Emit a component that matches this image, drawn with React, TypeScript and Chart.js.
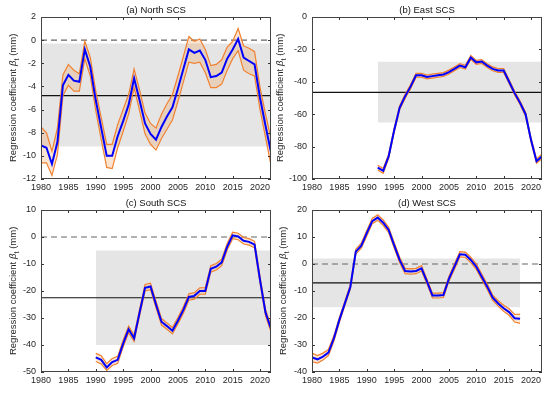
import React, { useEffect, useRef } from "react";
import { Chart, registerables } from "chart.js";
Chart.register(...registerables);

const FONT = "'Liberation Sans', Arial, Helvetica, sans-serif";
const TEXT = "#262626";
const BLUE = "#0000ff";
const ORANGE = "#f0802f";
const PEACH = "rgba(240, 150, 70, 0.25)";
const BAND = "#e5e5e5";

const xTicks = [1980, 1985, 1990, 1995, 2000, 2005, 2010, 2015, 2020];
const xRange = [1980, 2022];

// (a) North SCS
const northYears = [1980, 1981, 1982, 1983, 1984, 1985, 1986, 1987, 1988, 1989, 1990, 1991, 1992, 1993, 1994, 1995, 1996, 1997, 1998, 1999, 2000, 2001, 2002, 2003, 2004, 2005, 2006, 2007, 2008, 2009, 2010, 2011, 2012, 2013, 2014, 2015, 2016, 2017, 2018, 2019, 2020, 2021, 2022];
const northMid = [-9.1, -9.3, -10.7, -8.8, -3.9, -3.0, -3.5, -3.6, -0.8, -2.3, -5.2, -7.6, -10.0, -10.0, -8.3, -7.0, -5.6, -3.3, -5.2, -7.2, -8.1, -8.6, -7.5, -6.6, -5.8, -4.2, -2.5, -0.8, -1.1, -0.9, -1.7, -3.2, -3.1, -2.8, -1.6, -0.8, 0.1, -1.5, -1.8, -2.1, -5.0, -7.4, -9.7];
const northUpper = [-7.5, -8.0, -9.6, -7.6, -3.0, -2.1, -2.6, -2.9, -0.1, -1.5, -4.4, -6.7, -9.0, -9.0, -7.3, -6.0, -4.7, -2.5, -4.3, -6.3, -7.2, -7.6, -6.4, -5.5, -4.7, -3.1, -1.4, 0.3, -0.1, 0.1, -0.8, -2.2, -2.1, -1.7, -0.6, -0.1, 1.0, -0.5, -0.7, -1.0, -4.1, -6.4, -8.5];
const northLower = [-10.6, -10.6, -11.7, -9.9, -4.8, -3.9, -4.4, -4.4, -1.6, -3.1, -6.1, -8.6, -11.0, -11.1, -9.3, -7.9, -6.4, -4.1, -6.1, -8.1, -9.0, -9.5, -8.5, -7.7, -6.9, -5.3, -3.6, -1.9, -2.0, -1.9, -2.8, -4.1, -4.1, -3.8, -2.6, -1.6, -0.9, -2.6, -2.9, -3.1, -6.0, -8.4, -10.8];
const northBandYears = [1980, 2022];
const northBand = [-0.3, -9.2];
const northMean = -4.8;
const northYTicks = [-12, 2, 2];

// (b) East SCS
const eastYears = [1992, 1993, 1994, 1995, 1996, 1997, 1998, 1999, 2000, 2001, 2002, 2003, 2004, 2005, 2006, 2007, 2008, 2009, 2010, 2011, 2012, 2013, 2014, 2015, 2016, 2017, 2018, 2019, 2020, 2021, 2022];
const eastMid = [-93, -95, -86, -70, -56, -49, -43, -36, -36, -37, -36.5, -36, -35.5, -34, -32, -30, -31, -25, -28, -27.5, -30, -32, -33, -33, -40, -47, -53, -60, -76, -89, -86];
const eastUpper = [-91.5, -93.5, -84.7, -68.7, -54.7, -47.7, -41.7, -34.8, -34.8, -35.8, -35.3, -34.8, -34.3, -32.8, -30.8, -28.8, -29.8, -23.8, -26.8, -26.3, -28.8, -30.8, -31.8, -31.8, -38.8, -45.8, -51.8, -58.8, -74.7, -87.7, -84.5];
const eastLower = [-94.5, -96.5, -87.3, -71.3, -57.3, -50.3, -44.3, -37.2, -37.2, -38.2, -37.7, -37.2, -36.7, -35.2, -33.2, -31.2, -32.2, -26.2, -29.2, -28.7, -31.2, -33.2, -34.2, -34.2, -41.2, -48.2, -54.2, -61.2, -77.3, -90.3, -87.5];
const eastBandYears = [1992, 2022];
const eastBand = [-27.6, -65.2];
const eastMean = -46.5;
const eastYTicks = [-100, 0, 20];

// (c) South SCS
const southYears = [1990, 1991, 1992, 1993, 1994, 1995, 1996, 1997, 1998, 1999, 2000, 2001, 2002, 2003, 2004, 2005, 2006, 2007, 2008, 2009, 2010, 2011, 2012, 2013, 2014, 2015, 2016, 2017, 2018, 2019, 2020, 2021, 2022];
const southMid = [-44.6, -45.5, -48.3, -46.3, -45.5, -39.5, -34.2, -37.5, -28, -18.8, -18.3, -25, -31.4, -33, -34.7, -31, -27, -22.2, -21.8, -20, -20, -11.8, -11, -9.4, -3.6, 0.6, 0.2, -1.4, -1.8, -2.8, -16, -28, -34];
const southUpper = [-43.1, -44.0, -46.9, -45.0, -44.2, -38.2, -33.0, -36.3, -26.8, -17.6, -17.1, -23.8, -30.2, -31.8, -33.5, -29.8, -25.8, -21.0, -20.6, -18.8, -18.8, -10.6, -9.8, -8.2, -2.4, 1.8, 1.4, -0.2, -0.6, -1.6, -14.8, -26.8, -32.8];
const southLower = [-46.1, -47.0, -49.4, -47.6, -46.8, -40.8, -35.4, -38.7, -29.2, -20.0, -19.5, -26.2, -32.6, -34.2, -35.9, -32.2, -28.2, -23.4, -23.0, -21.2, -21.2, -13.0, -12.2, -10.6, -4.8, -0.6, -1.0, -2.6, -3.0, -4.0, -17.2, -29.2, -35.2];
const southBandYears = [1990, 2022];
const southBand = [-5, -40];
const southMean = -22.5;
const southYTicks = [-50, 10, 10];

// (d) West SCS
const westYears = [1980, 1981, 1982, 1983, 1984, 1985, 1986, 1987, 1988, 1989, 1990, 1991, 1992, 1993, 1994, 1995, 1996, 1997, 1998, 1999, 2000, 2001, 2002, 2003, 2004, 2005, 2006, 2007, 2008, 2009, 2010, 2011, 2012, 2013, 2014, 2015, 2016, 2017, 2018];
const westMid = [-34.6, -35.3, -34.3, -32.8, -27.5, -20.7, -14.6, -8.5, 4.6, 6.8, 11.4, 15.9, 17.2, 15.3, 12.6, 7, 1.5, -2.6, -2.8, -2.6, -1.6, -6.5, -11.7, -11.7, -11.5, -5.5, -1, 3.6, 3.4, 1.5, -1, -4.7, -8.4, -12.5, -14.6, -16.4, -17.8, -20.1, -20.3];
const westUpper = [-33.0, -33.9, -33.0, -31.7, -26.5, -19.8, -13.8, -7.7, 5.5, 7.7, 12.4, 16.9, 18.2, 16.3, 13.6, 8.0, 2.5, -1.6, -1.8, -1.6, -0.6, -5.6, -10.8, -10.8, -10.6, -4.6, 0.0, 4.6, 4.4, 2.5, 0.0, -3.7, -7.4, -11.5, -13.6, -15.3, -16.6, -18.7, -18.6];
const westLower = [-36.2, -36.7, -35.6, -33.9, -28.5, -21.6, -15.4, -9.3, 3.7, 5.9, 10.4, 14.9, 16.2, 14.3, 11.6, 6.0, 0.5, -3.6, -3.8, -3.6, -2.6, -7.4, -12.6, -12.6, -12.4, -6.4, -2.0, 2.6, 2.4, 0.5, -2.0, -5.7, -9.4, -13.5, -15.6, -17.5, -19.0, -21.5, -22.0];
const westBandYears = [1980, 2018];
const westBand = [2, -16];
const westMean = -7;
const westYTicks = [-40, 20, 10];

type PanelData = {
  title: string;
  years: number[];
  mid: number[];
  upper: number[];
  lower: number[];
  bandYears: number[];
  band: number[];
  mean: number;
  zero: boolean;
  yTicks: number[];
};

type Layout = {
  left: number; top: number; w: number; h: number;
  leftW: number; padTop: number; padRight: number; bottomH: number; labelX: number;
};

const panels: { data: PanelData; layout: Layout }[] = [
  {
    data: { title: "(a) North SCS", years: northYears, mid: northMid, upper: northUpper, lower: northLower, bandYears: northBandYears, band: northBand, mean: northMean, zero: true, yTicks: northYTicks },
    layout: { left: 0, top: 0, w: 275, h: 196, leftW: 41, padTop: 17, padRight: 4, bottomH: 17, labelX: 13 },
  },
  {
    data: { title: "(b) East SCS", years: eastYears, mid: eastMid, upper: eastUpper, lower: eastLower, bandYears: eastBandYears, band: eastBand, mean: eastMean, zero: false, yTicks: eastYTicks },
    layout: { left: 272, top: 0, w: 278, h: 196, leftW: 40, padTop: 17, padRight: 8, bottomH: 17, labelX: 8 },
  },
  {
    data: { title: "(c) South SCS", years: southYears, mid: southMid, upper: southUpper, lower: southLower, bandYears: southBandYears, band: southBand, mean: southMean, zero: true, yTicks: southYTicks },
    layout: { left: 0, top: 196, w: 275, h: 199, leftW: 41, padTop: 14, padRight: 4, bottomH: 23, labelX: 13 },
  },
  {
    data: { title: "(d) West SCS", years: westYears, mid: westMid, upper: westUpper, lower: westLower, bandYears: westBandYears, band: westBand, mean: westMean, zero: true, yTicks: westYTicks },
    layout: { left: 272, top: 196, w: 278, h: 199, leftW: 40, padTop: 14, padRight: 8, bottomH: 23, labelX: 11 },
  },
];

const decorPlugin = {
  id: "decor",
  afterDraw(chart: any, _args: any, opts: any) {
    const { ctx, chartArea: ca, scales } = chart;
    const xs = scales.x, ys = scales.y;
    ctx.save();
    ctx.strokeStyle = "#333";
    ctx.lineWidth = 1;
    ctx.beginPath();
    const tl = 3;
    for (const t of xs.ticks) {
      const px = Math.round(xs.getPixelForValue(t.value)) + 0.5;
      ctx.moveTo(px, ca.bottom);
      ctx.lineTo(px, ca.bottom - tl);
      ctx.moveTo(px, ca.top);
      ctx.lineTo(px, ca.top + tl);
    }
    for (const t of ys.ticks) {
      const py = Math.round(ys.getPixelForValue(t.value)) + 0.5;
      ctx.moveTo(ca.left, py);
      ctx.lineTo(ca.left + tl, py);
      ctx.moveTo(ca.right, py);
      ctx.lineTo(ca.right - tl, py);
    }
    ctx.stroke();
    ctx.strokeStyle = "#444";
    ctx.strokeRect(Math.round(ca.left) + 0.5, Math.round(ca.top) + 0.5, Math.round(ca.width) - 1, Math.round(ca.height) - 1);

    ctx.fillStyle = "#111";
    ctx.font = `9.5px ${FONT}`;
    ctx.textAlign = "center";
    ctx.textBaseline = "middle";
    ctx.fillText(opts.title, (ca.left + ca.right) / 2, ca.top - 7);

    const cy = (ca.top + ca.bottom) / 2;
    ctx.translate(opts.labelX, cy);
    ctx.rotate(-Math.PI / 2);
    ctx.textAlign = "left";
    ctx.textBaseline = "alphabetic";
    const fN = `9.5px ${FONT}`;
    const fI = `italic 9.5px ${FONT}`;
    const fS = `7px ${FONT}`;
    const pA = "Regression coefficient ";
    const pB = "β";
    const pC = "t";
    const pD = " (mm)";
    ctx.font = fN;
    const wA = ctx.measureText(pA).width;
    const wD = ctx.measureText(pD).width;
    ctx.font = fI;
    const wB = ctx.measureText(pB).width;
    ctx.font = fS;
    const wC = ctx.measureText(pC).width;
    let x = -(wA + wB + wC + wD) / 2;
    const base = 3.4;
    ctx.fillStyle = TEXT;
    ctx.font = fN; ctx.fillText(pA, x, base); x += wA;
    ctx.font = fI; ctx.fillText(pB, x, base); x += wB + 0.3;
    ctx.font = fS; ctx.fillText(pC, x, base + 2.5); x += wC;
    ctx.font = fN; ctx.fillText(pD, x, base);
    ctx.restore();
  },
};

function pts(xs: number[], ys: number[]) {
  return xs.map((x, i) => ({ x, y: ys[i] }));
}

function Panel({ data, layout }: { data: PanelData; layout: Layout }) {
  const ref = useRef<HTMLCanvasElement | null>(null);
  useEffect(() => {
    if (!ref.current) return;
    const line = { pointRadius: 0, tension: 0, fill: false };
    const datasets: any[] = [
      { ...line, data: pts(data.years, data.mid), borderColor: BLUE, borderWidth: 2 },
      { ...line, data: pts(data.years, data.upper), borderColor: ORANGE, borderWidth: 1.2, fill: 2, backgroundColor: PEACH },
      { ...line, data: pts(data.years, data.lower), borderColor: ORANGE, borderWidth: 1.2 },
      { ...line, data: pts(xRange, [data.mean, data.mean]), borderColor: "#111", borderWidth: 1.2 },
    ];
    if (data.zero) {
      datasets.push({ ...line, data: pts(xRange, [0, 0]), borderColor: "#666", borderWidth: 1.2, borderDash: [6, 4] });
    }
    datasets.push(
      { ...line, data: pts(data.bandYears, [data.band[0], data.band[0]]), borderWidth: 0, borderColor: "rgba(0,0,0,0)", fill: "+1", backgroundColor: BAND },
      { ...line, data: pts(data.bandYears, [data.band[1], data.band[1]]), borderWidth: 0, borderColor: "rgba(0,0,0,0)" }
    );
    const chart = new Chart(ref.current, {
      type: "line",
      data: { datasets },
      options: {
        animation: false,
        responsive: false,
        devicePixelRatio: 1,
        layout: { padding: { top: layout.padTop, right: layout.padRight, left: 0, bottom: 0 } },
        plugins: {
          legend: { display: false },
          tooltip: { enabled: false },
          decor: { title: data.title, labelX: layout.labelX },
        } as any,
        scales: {
          x: {
            type: "linear",
            min: xRange[0],
            max: xRange[1],
            afterBuildTicks: (s: any) => {
              s.ticks = xTicks.map((v) => ({ value: v }));
            },
            afterFit: (s: any) => {
              s.height = layout.bottomH;
            },
            grid: { display: false, drawTicks: false },
            border: { display: false },
            ticks: {
              font: { family: FONT, size: 9 },
              color: TEXT,
              padding: 3,
              maxRotation: 0,
              autoSkip: false,
              callback: (v: any) => String(v),
            },
          },
          y: {
            type: "linear",
            min: data.yTicks[0],
            max: data.yTicks[1],
            afterFit: (s: any) => {
              s.width = layout.leftW;
            },
            grid: { display: false, drawTicks: false },
            border: { display: false },
            ticks: {
              stepSize: data.yTicks[2],
              font: { family: FONT, size: 9 },
              color: TEXT,
              padding: 5,
              callback: (v: any) => String(v),
            },
          },
        },
      },
      plugins: [decorPlugin as any],
    });
    return () => chart.destroy();
  }, []);
  return (
    <canvas
      ref={ref}
      width={layout.w}
      height={layout.h}
      style={{ position: "absolute", left: layout.left, top: layout.top, width: layout.w, height: layout.h }}
    />
  );
}

export default function App() {
  return (
    <div style={{ position: "fixed", left: 0, top: 0, width: 550, height: 395, background: "#fff" }}>
      {panels.map((p, i) => (
        <Panel key={i} data={p.data} layout={p.layout} />
      ))}
    </div>
  );
}
